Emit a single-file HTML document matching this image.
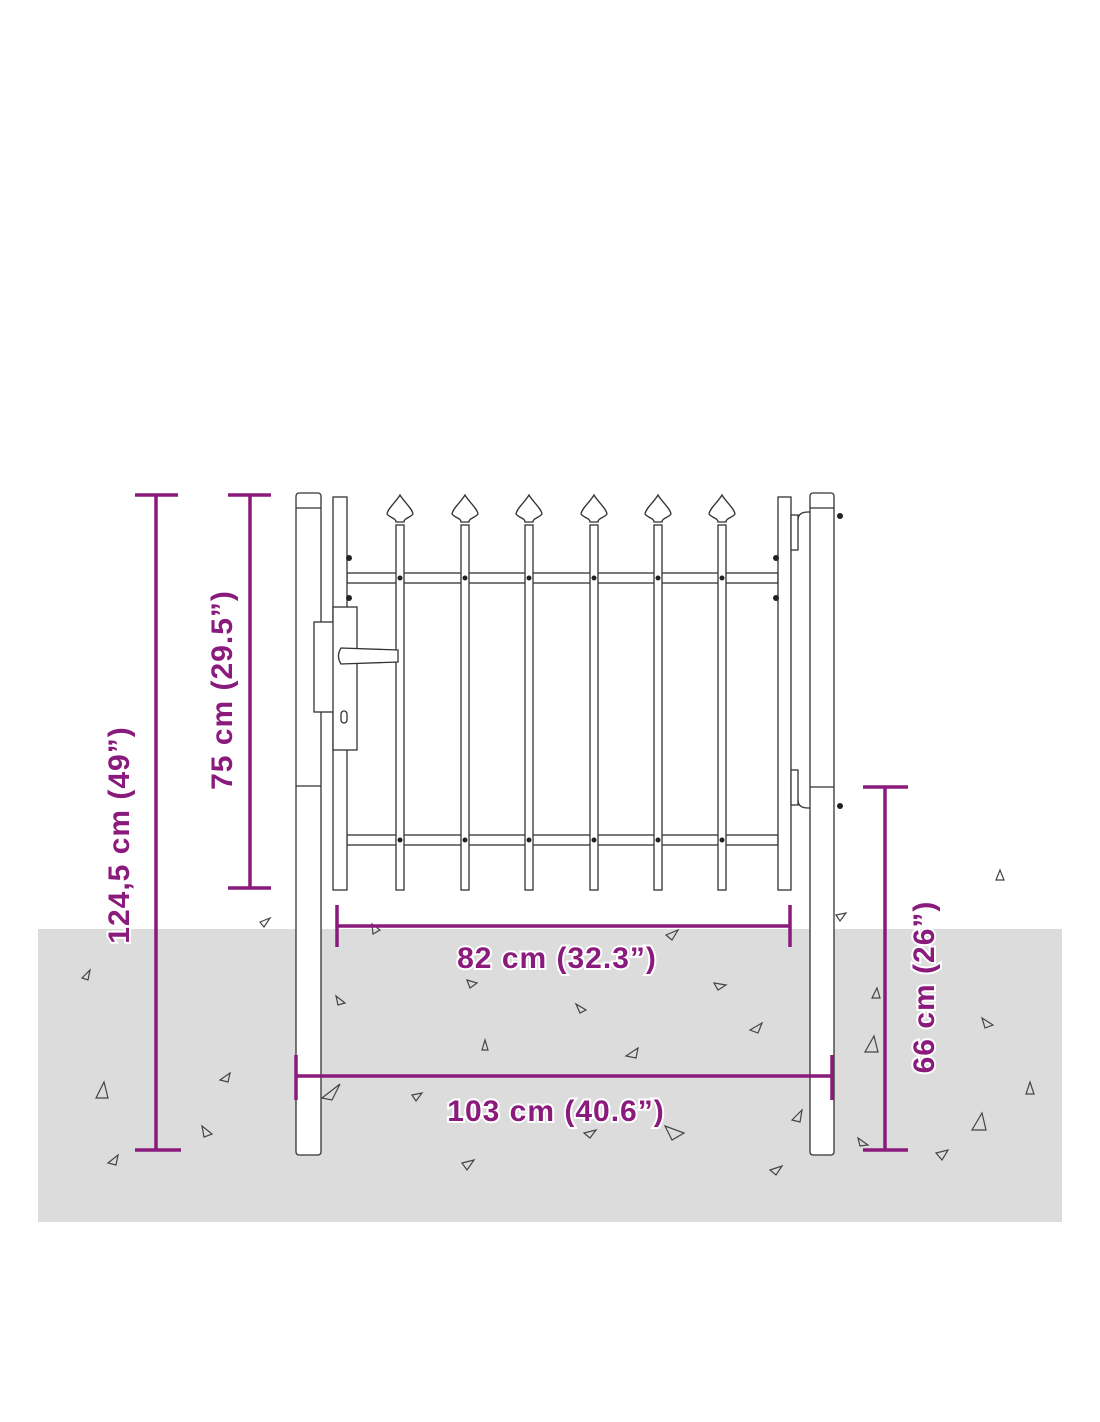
<!DOCTYPE html>
<html><head><style>body{margin:0;background:#fff}svg{display:block}</style></head><body>
<svg width="1100" height="1422" viewBox="0 0 1100 1422" xmlns="http://www.w3.org/2000/svg">
<rect x="38" y="929" width="1024" height="293" fill="#dcdcdc"/>
<g fill="none" stroke="#444" stroke-width="1.2">
<polygon points="82,978 90,970 88,980"/><polygon points="96,1098 108,1098 104,1082"/><polygon points="108,1163 118,1155 116,1165"/>
<polygon points="202,1126 212,1134 204,1137"/><polygon points="220,1080 230,1073 228,1082"/><polygon points="260,922 270,918 264,927"/>
<polygon points="336,996 345,1003 338,1005"/><polygon points="372,924 380,930 373,934"/><polygon points="322,1098 340,1084 332,1100"/>
<polygon points="412,1095 422,1093 416,1101"/><polygon points="467,980 477,983 470,988"/><polygon points="482,1050 488,1050 485,1040"/>
<polygon points="462,1163 474,1160 467,1170"/><polygon points="576,1004 586,1010 580,1013"/><polygon points="584,1133 596,1130 590,1138"/>
<polygon points="626,1056 638,1048 636,1058"/><polygon points="665,1126 684,1133 672,1140"/><polygon points="666,935 678,930 672,940"/>
<polygon points="714,983 726,985 718,990"/><polygon points="750,1030 762,1023 758,1033"/><polygon points="770,1170 782,1166 776,1175"/>
<polygon points="792,1120 802,1110 800,1122"/><polygon points="836,915 846,913 840,921"/><polygon points="865,1052 878,1052 874,1036"/>
<polygon points="872,998 880,998 877,988"/><polygon points="858,1138 868,1145 860,1146"/><polygon points="936,1153 948,1150 942,1160"/>
<polygon points="972,1130 986,1130 982,1113"/><polygon points="982,1018 993,1025 985,1028"/><polygon points="996,880 1004,880 1000,870"/>
<polygon points="1026,1094 1034,1094 1030,1082"/>
</g>
<g fill="#fff" stroke="#333" stroke-width="1.3">
<rect x="296" y="493" width="25" height="662" rx="3"/><line x1="296" y1="508" x2="321" y2="508"/><line x1="296" y1="786" x2="321" y2="786"/>
<rect x="810" y="493" width="24" height="662" rx="3"/><line x1="810" y1="508" x2="834" y2="508"/><line x1="810" y1="787" x2="834" y2="787"/>
<rect x="347" y="573" width="431" height="10"/><rect x="347" y="835" width="431" height="10"/>
<g id="p">
<rect x="396" y="525" width="8" height="365"/>
<path d="M400,495 C404,502 412,508 413,514 C410,518 404,518 404,522 L396,522 C396,518 390,518 387,514 C388,508 396,502 400,495Z"/>
</g>
<use href="#p" x="65"/><use href="#p" x="129"/><use href="#p" x="194"/><use href="#p" x="258"/><use href="#p" x="322"/>
<rect x="333" y="497" width="14" height="393"/><rect x="778" y="497" width="13" height="393"/>
<rect x="791" y="515" width="7" height="35"/><rect x="791" y="770" width="7" height="35"/>
<path d="M798,520 Q798,512 808,512 L810,512" fill="none"/><path d="M798,800 Q798,808 808,808 L810,808" fill="none"/>
<rect x="314" y="622" width="20" height="90"/><rect x="333" y="607" width="24" height="143"/>
<path d="M341,648 L398,650 L398,662 L341,664 Q336,656 341,648Z"/>
<rect x="341" y="711" width="6" height="12" rx="3"/>
</g>
<g fill="#222"><circle cx="400" cy="578" r="2.5"/><circle cx="465" cy="578" r="2.5"/><circle cx="529" cy="578" r="2.5"/><circle cx="594" cy="578" r="2.5"/><circle cx="658" cy="578" r="2.5"/><circle cx="722" cy="578" r="2.5"/>
<circle cx="400" cy="840" r="2.5"/><circle cx="465" cy="840" r="2.5"/><circle cx="529" cy="840" r="2.5"/><circle cx="594" cy="840" r="2.5"/><circle cx="658" cy="840" r="2.5"/><circle cx="722" cy="840" r="2.5"/>
<circle cx="840" cy="516" r="3"/><circle cx="840" cy="806" r="3"/><circle cx="349" cy="558" r="3"/><circle cx="349" cy="598" r="3"/><circle cx="776" cy="558" r="3"/><circle cx="776" cy="598" r="3"/></g>
<g stroke="#8a1a7c" stroke-width="3.5" fill="none">
<path d="M156,495V1150M135,495H178M135,1150H181"/>
<path d="M250,495V888M228,495H271M228,888H271"/>
<path d="M885,787V1150M863,787H908M863,1150H908"/>
<path d="M337,926H790M337,905V947M790,905V947"/>
<path d="M296,1076H832M296,1055V1100M832,1055V1100"/>
</g>
<g font-family="Liberation Sans, sans-serif" font-weight="bold" font-size="30" letter-spacing="1" fill="#8a1a7c" stroke="#fff" stroke-width="4" paint-order="stroke" text-anchor="middle">
<text x="557" y="968">82 cm (32.3”)</text>
<text x="556" y="1121">103 cm (40.6”)</text>
<text transform="translate(129,835) rotate(-90)">124,5 cm (49”)</text>
<text transform="translate(232,690) rotate(-90)">75 cm (29.5”)</text>
<text transform="translate(934,987) rotate(-90)">66 cm (26”)</text>
</g>
</svg>
</body></html>
